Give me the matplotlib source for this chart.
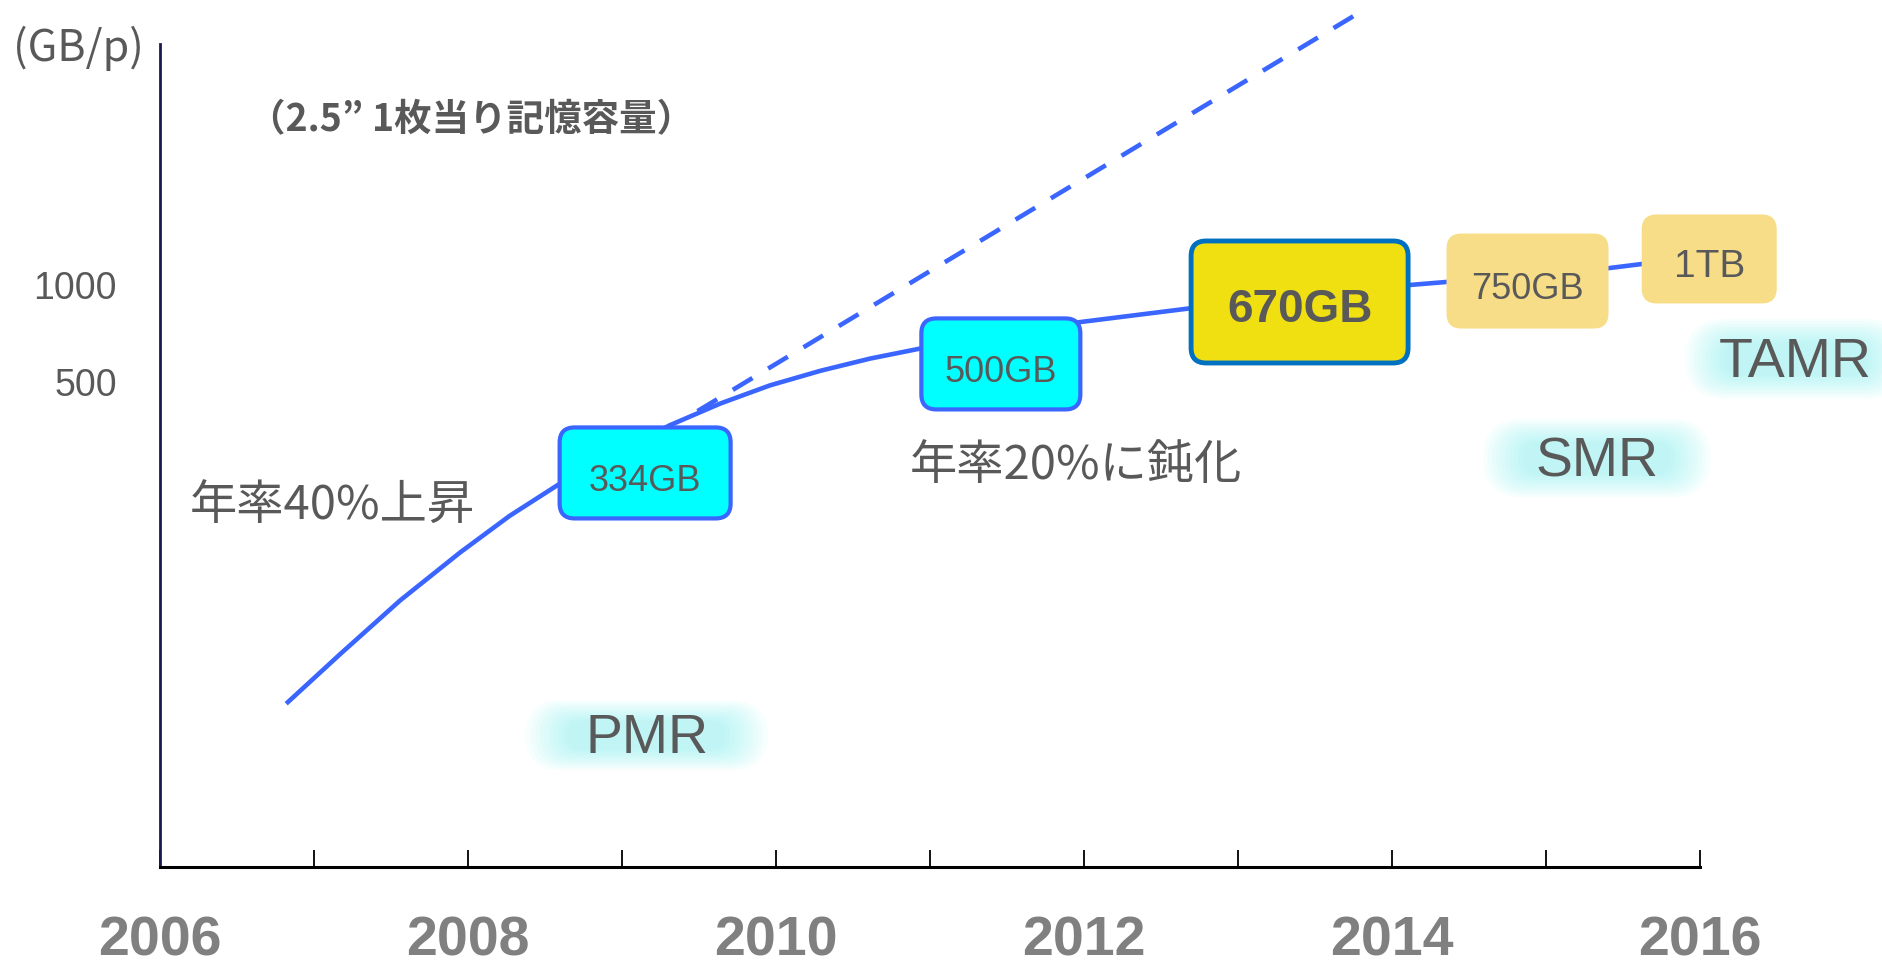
import matplotlib
matplotlib.use("Agg")
import matplotlib.pyplot as plt
from matplotlib.patches import FancyBboxPatch
from matplotlib.transforms import ScaledTranslation
from matplotlib.ticker import NullLocator

# 2.5" platter capacity (GB per platter)
CURVE_YEARS = [2006.83, 2007.17, 2007.56, 2007.95, 2008.27, 2008.58, 2009.31,
               2009.64, 2009.96, 2010.29, 2010.61, 2010.95, 2011.45, 2011.98,
               2012.70, 2013.40, 2014.11, 2014.35, 2014.90, 2015.41, 2015.62,
               2015.87]
CURVE_GB = [50.7, 71.5, 105, 148, 192, 239, 367, 429, 488, 542, 591, 637,
            699, 768, 848, 924, 1000, 1022, 1074, 1129, 1162, 1196]

# 40%/year extrapolation (dashed)
TREND_YEARS = [2009.49, 2013.75]
TREND_GB = [406, 6840]

BOX_LABELS = ["334GB", "500GB", "670GB", "750GB", "1TB"]
BOX_YEARS = [2009.15, 2011.46, 2013.40, 2014.88, 2016.06]
BOX_GB = [261, 569, 886, 1029, 1205]

TECH_LABELS = ["PMR", "SMR", "TAMR"]
TECH_YEARS = [2009.16, 2015.33, 2016.62]
TECH_GB = [40, 290, 590]

X_TICKS = list(range(2006, 2017))
X_TICK_LABELS = [str(y) if y % 2 == 0 else "" for y in X_TICKS]
Y_TICKS = [500, 1000]
Y_TICK_LABELS = ["500", "1000"]

BLUE = "#3a66ff"
GRAY = "#595959"
CJK = ["Noto Sans CJK JP", "DejaVu Sans"]

# per-box look: width, height (inches), face, edge, linewidth, fontsize, weight
BOX_STYLES = [
    (1.71, 0.91, "#00ffff", BLUE, 3.0, 26, "normal"),
    (1.59, 0.91, "#00ffff", BLUE, 3.0, 26, "normal"),
    (2.17, 1.22, "#f0e012", "#0070c0", 3.5, 33, "bold"),
    (1.62, 0.95, "#f7dd87", "none", 0, 26, "normal"),
    (1.35, 0.89, "#f7dd87", "none", 0, 28, "normal"),
]
GLOW_SIZES = [(2.1, 0.48), (1.98, 0.54), (1.92, 0.55)]


def add_box(fig, ax, x, y, w, h, rounding=0.15, **kw):
    trans = fig.dpi_scale_trans + ScaledTranslation(x, y, ax.transData)
    patch = FancyBboxPatch((-w / 2, -h / 2), w, h,
                           boxstyle=f"round,pad=0,rounding_size={rounding}",
                           transform=trans, clip_on=False, **kw)
    ax.add_artist(patch)


def main() -> None:
    plt.rcParams["font.family"] = ["Liberation Sans", "Noto Sans CJK JP", "DejaVu Sans"]

    fig = plt.figure(figsize=(18.83, 9.67), dpi=100)
    ax = fig.add_axes([0.0850, 0.1034, 0.8178, 0.8966])
    ax.set_yscale("log")
    ax.set_xlim(2006, 2016)
    ax.set_ylim(15.6, 7674)
    ax.set_autoscale_on(False)

    ax.plot(CURVE_YEARS, CURVE_GB, color=BLUE, lw=3.3, zorder=2,
            solid_joinstyle="round")
    ax.plot(TREND_YEARS, TREND_GB, color=BLUE, lw=3.3, ls=(0, (5, 4)),
            zorder=2, clip_on=False)

    for label, x, y, style in zip(BOX_LABELS, BOX_YEARS, BOX_GB, BOX_STYLES):
        w, h, face, edge, lw, fs, weight = style
        add_box(fig, ax, x, y, w, h, facecolor=face, edgecolor=edge,
                linewidth=lw, zorder=3)
        ax.annotate(label, (x, y), xytext=(0, -6), textcoords="offset points",
                    ha="center", va="center", fontsize=fs, fontweight=weight,
                    color=GRAY, zorder=4, annotation_clip=False)

    # soft cyan glow behind the recording-technology labels
    n_layers = 10
    for label, x, y, (w, h) in zip(TECH_LABELS, TECH_YEARS, TECH_GB, GLOW_SIZES):
        for i in range(n_layers):
            f = i / (n_layers - 1)
            gw = w * (1.15 - 0.40 * f)
            gh = h * (1.45 - 0.85 * f)
            add_box(fig, ax, x, y, gw, gh, rounding=gh / 2,
                    facecolor="#8ef4f4", edgecolor="none", alpha=0.07, zorder=1)
        ax.annotate(label, (x, y), xytext=(0, -3), textcoords="offset points",
                    ha="center", va="center", fontsize=40, color=GRAY,
                    zorder=4, annotation_clip=False)

    ax.text(2007.12, 205, "年率40%上昇", ha="center", va="center",
            fontsize=34, color=GRAY, family=CJK)
    ax.text(2011.95, 274, "年率20%に鈍化", ha="center", va="center",
            fontsize=34, color=GRAY, family=CJK)
    fig.text(0.0414, 0.950, "(GB/p)", ha="center", va="center",
             fontsize=31, color=GRAY, family=CJK)
    fig.text(0.250, 0.876, "（2.5” 1枚当り記憶容量）", ha="center", va="center",
             fontsize=27, color=GRAY, fontweight="bold", family=CJK)

    for side in ("top", "right"):
        ax.spines[side].set_visible(False)
    ax.spines["bottom"].set_linewidth(2.2)
    ax.spines["bottom"].set_color("black")
    ax.spines["left"].set_linewidth(2.0)
    ax.spines["left"].set_color("#1a1a50")
    ax.spines["left"].set_bounds(15.6, 5600)

    ax.set_xticks(X_TICKS)
    ax.set_xticklabels(X_TICK_LABELS)
    ax.tick_params(axis="x", direction="in", length=12, width=1.3, color="black",
                   pad=35, labelsize=40, labelcolor="#808080")
    for t in ax.get_xticklabels():
        t.set_fontweight("bold")

    ax.set_yticks(Y_TICKS)
    ax.set_yticklabels(Y_TICK_LABELS)
    ax.yaxis.set_minor_locator(NullLocator())
    ax.tick_params(axis="y", length=0, pad=31, labelsize=27, labelcolor=GRAY)

    fig.savefig("out.png", dpi=100)
    plt.close(fig)


if __name__ == "__main__":
    main()
